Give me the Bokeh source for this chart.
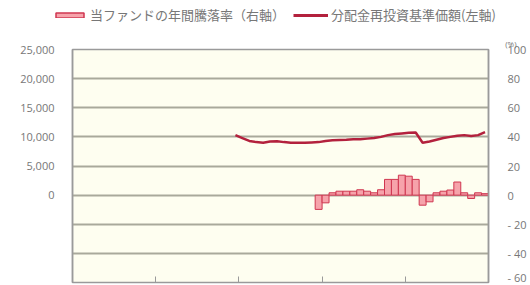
from bokeh.plotting import figure
from bokeh.layouts import column, row
from bokeh.models import (Range1d, LinearAxis, FixedTicker, NumeralTickFormatter,
                          Legend, LegendItem, ColumnDataSource)
from bokeh.embed import file_html
from bokeh.resources import INLINE

# ---- data (monthly index 0..59 over five periods) ----
nav_months = list(range(23, 60))
nav_values = [10300, 9800, 9300, 9100, 9000, 9200, 9250, 9100, 9000, 9000,
              9000, 9050, 9100, 9300, 9400, 9450, 9500, 9600, 9600, 9700,
              9800, 10000, 10300, 10500, 10600, 10700, 10750, 9000, 9200, 9500,
              9800, 10000, 10200, 10300, 10150, 10300, 10800]

ret_months = list(range(35, 60))
ret_values = [-9.8, -5.3, 1.6, 2.7, 2.7, 2.7, 3.7, 2.7, 1.6, 3.7,
              10.8, 10.8, 13.7, 13.0, 10.8, -6.9, -4.6, 1.6, 2.7, 3.5,
              9.0, 1.6, -2.3, 1.6, 1.0]

left_ticks = [-15000, -10000, -5000, 0, 5000, 10000, 15000, 20000, 25000]
right_ticks = [-60, -40, -20, 0, 20, 40, 60, 80, 100]
x_ticks = [12, 24, 36, 48]

label_ret = "当ファンドの年間騰落率（右軸）"
label_nav = "分配金再投資基準価額(左軸)"

JP = "Noto Sans CJK JP"
GREY = "#777777"
BAR_FILL = "#f6a3ab"
BAR_LINE = "#cf3650"
LINE_COL = "#b3213d"

bar_src = ColumnDataSource(dict(x=[m + 0.5 for m in ret_months], top=ret_values))
line_src = ColumnDataSource(dict(x=[m + 0.5 for m in nav_months], y=nav_values))

# ---------------- main chart ----------------
p = figure(frame_width=416, frame_height=233, output_backend="svg",
           toolbar_location=None,
           x_range=Range1d(0, 60), y_range=Range1d(-15000, 25000),
           x_axis_location=None,
           min_border_left=72, min_border_right=42, min_border_top=12,
           min_border_bottom=2, title="(%)")
p.border_fill_color = "white"
p.background_fill_color = "#fefef0"
p.outline_line_color = "#9a9a9a"
p.outline_line_width = 1.5

p.title.align = "right"
p.title.offset = -28
p.title.text_font = "Open Sans"
p.title.text_font_size = "8px"
p.title.text_font_style = "normal"
p.title.text_color = GREY
p.title.standoff = 2

p.extra_y_ranges = {"pct": Range1d(-60, 100)}

xa = LinearAxis(fixed_location=-15000, ticker=FixedTicker(ticks=x_ticks))
xa.major_label_overrides = {t: "" for t in x_ticks}
xa.major_label_text_font_size = "1px"
xa.major_tick_in = 6
xa.major_tick_out = 0
xa.minor_tick_line_color = None
xa.axis_line_color = "#9a9a9a"
xa.major_tick_line_color = "#9a9a9a"
xa.major_label_standoff = 0
p.add_layout(xa, "below")

ya = p.yaxis[0]
ya.ticker = FixedTicker(ticks=left_ticks)
ya.formatter = NumeralTickFormatter(format="0,0")
ya.major_label_overrides = {t: "" for t in left_ticks if t < 0}
ya.major_tick_line_color = None
ya.minor_tick_line_color = None
ya.axis_line_color = "#9a9a9a"
ya.axis_line_width = 1.5
ya.major_label_text_font = "Open Sans"
ya.major_label_text_font_size = "11px"
ya.major_label_text_color = GREY
ya.major_label_standoff = 12

ra = LinearAxis(y_range_name="pct", ticker=FixedTicker(ticks=right_ticks))
ra.major_label_overrides = {t: ("- %d" % -t if t < 0 else str(t)) for t in right_ticks}
ra.major_tick_line_color = None
ra.minor_tick_line_color = None
ra.axis_line_color = "#9a9a9a"
ra.axis_line_width = 1.5
ra.major_label_text_font = "Open Sans"
ra.major_label_text_font_size = "11px"
ra.major_label_text_color = GREY
ra.major_label_standoff = 13
p.add_layout(ra, "right")

p.xgrid.grid_line_color = None
p.ygrid.grid_line_color = "#a9a99b"
p.ygrid.grid_line_width = 2

p.vbar(x="x", top="top", bottom=0, width=1.0, source=bar_src,
       y_range_name="pct", fill_color=BAR_FILL, line_color=BAR_LINE, line_width=1)
p.line(x="x", y="y", source=line_src, line_color=LINE_COL, line_width=2.5)

# ---------------- legend strip ----------------
lg = figure(width=530, height=34, output_backend="svg", toolbar_location=None,
            x_range=Range1d(0, 60), y_range=Range1d(-15000, 25000),
            x_axis_location=None, y_axis_location=None,
            min_border=0)
lg.outline_line_color = None
lg.grid.visible = False
lg.extra_y_ranges = {"pct": Range1d(-60, 100)}
lbars = lg.vbar(x="x", top="top", bottom=0, width=1.0, source=bar_src,
                y_range_name="pct", fill_color=BAR_FILL, line_color=BAR_LINE,
                line_width=1.5, visible=False)
lline = lg.line(x="x", y="y", source=line_src, line_color=LINE_COL,
                line_width=3, visible=False)
legend = Legend(items=[LegendItem(label=label_ret, renderers=[lbars]),
                       LegendItem(label=label_nav, renderers=[lline])],
                orientation="horizontal", location=(52, 10),
                label_text_font=JP, label_text_font_size="13px",
                label_text_color=GREY, glyph_width=35, glyph_height=6,
                spacing=8, label_standoff=3, border_line_color=None,
                background_fill_alpha=0, inactive_fill_alpha=0,
                padding=0, margin=0)
lg.add_layout(legend)

layout = column(row(lg), p, spacing=0)
open("out.html", "w").write(file_html(layout, INLINE))
